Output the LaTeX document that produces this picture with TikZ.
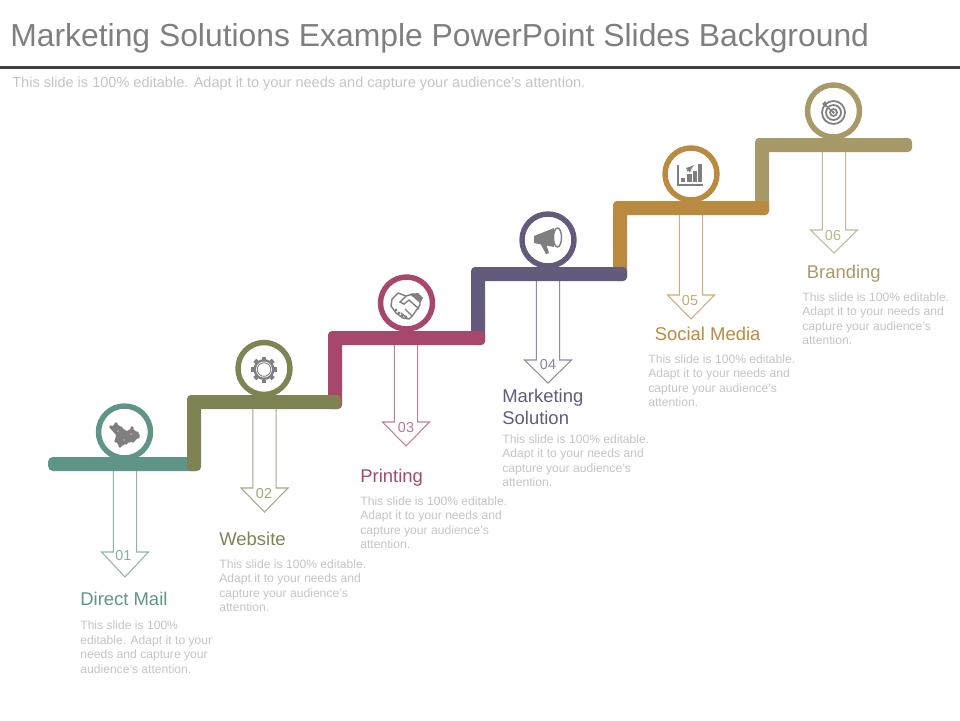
\documentclass[tikz,border=0pt]{standalone}
\usepackage{fontspec}
\setmainfont{Liberation Sans}
\usetikzlibrary{positioning}
\definecolor{StepTeal}{HTML}{5F9488}
\definecolor{StepOlive}{HTML}{7F8354}
\definecolor{StepMaroon}{HTML}{A8476E}
\definecolor{StepPurple}{HTML}{635A7C}
\definecolor{StepOchre}{HTML}{B98A3F}
\definecolor{StepKhaki}{HTML}{A89A68}
\definecolor{IconGray}{HTML}{7F7F7F}
\definecolor{BodyGray}{HTML}{C4C4C4}
\tikzset{
  ring/.style={circle, draw=#1, fill=white, line width=3.1pt, minimum size=1.04cm, inner sep=0pt},
  heading/.style={anchor=west, inner sep=0pt, align=left, text=#1,
                  font=\fontsize{10.5}{13}\selectfont},
  bodytext/.style={inner sep=0pt, align=left, text=BodyGray,
                   font=\fontsize{6.9}{8.2}\selectfont},
  numtext/.style={inner sep=0pt, text=#1!75, font=\fontsize{8.2}{10}\selectfont},
  icon/.style={draw=IconGray, line width=0.8pt},
  iconfill/.style={fill=IconGray}
}
\begin{document}
\begin{tikzpicture}[x=0.02cm, y=-0.02cm]
\useasboundingbox (0,0) rectangle (960,720);
\node[anchor=west, inner sep=0pt, text=IconGray, font=\fontsize{18.13}{22}\selectfont] (title) at (10,38)
  {Marketing Solutions Example PowerPoint Slides Background};
\coordinate (ruleL) at (0,67.5);
\coordinate (ruleR) at (960,67.5);
\draw[line width=1.7pt, color=black!75] (ruleL) -- (ruleR);
\node[anchor=west, inner sep=0pt, text=BodyGray, font=\fontsize{8.27}{10}\selectfont] (subtitle) at (12,83.5)
  {This slide is 100\% editable. Adapt it to your needs and capture your audience's attention.};
% arrows below the stairs
\foreach \col/\ax/\atop/\ash/\atip in {StepTeal/125/465/552/577, StepOlive/264.5/405/488/512,
    StepMaroon/406/340/422/446, StepPurple/548/277/360/383, StepOchre/691/210/295/319, StepKhaki/834/147/230/253}
  \draw[draw=\col!70, line width=0.6pt] (\ax-11.7,\atop) -- (\ax-11.7,\ash) -- (\ax-23.5,\ash) -- (\ax,\atip)
    -- (\ax+23.5,\ash) -- (\ax+11.7,\ash) -- (\ax+11.7,\atop);
% stairs
\foreach \col/\vx/\yb/\yt/\xr in {StepKhaki/762/215/145/912, StepOchre/620/281/208/769,
    StepPurple/478/345/274/627, StepMaroon/335/409/338/485}
  \fill[\col] (\vx-7,\yb) [rounded corners=0.08cm] -- (\vx-7,\yt-7) -- (\xr,\yt-7) -- (\xr,\yt+7)
    [sharp corners] -- (\vx+7,\yt+7) [rounded corners=0.08cm] -- (\vx+7,\yb) -- cycle;
\fill[StepTeal, rounded corners=0.1cm] (48,457) rectangle (200,471);
\fill[StepOlive] (187,471) [rounded corners=0.08cm] -- (187,395) -- (341,395) -- (341,409)
  [sharp corners] -- (201,409) [rounded corners=0.08cm] -- (201,471) -- cycle;
% rings
\node[ring=StepTeal] (ring1) at (124.5,432) {};
\node[ring=StepOlive] (ring2) at (264,368.5) {};
\node[ring=StepMaroon] (ring3) at (406.5,303) {};
\node[ring=StepPurple] (ring4) at (548,240) {};
\node[ring=StepOchre] (ring5) at (691,174) {};
\node[ring=StepKhaki] (ring6) at (833.5,111) {};
% puzzle icon
\fill[IconGray] (110,428) -- (116,423) -- (122,428) -- (127,431) -- (132,428) -- (140,435) -- (135,441)
  -- (127,443) -- (120,447) -- (115,440) -- (116,435) -- cycle;
\foreach \bx/\by in {111/427, 116/424, 121/428, 132/428, 137/433, 138/437, 133/441, 126/443, 120/446, 116/441, 122/436, 129/436}
  \fill[IconGray] (\bx,\by) circle (1.8);
\foreach \bx/\by in {118/431, 124/440, 131/434}
  \fill[white, opacity=0.3] (\bx,\by) circle (1.2);
% gear icon
\foreach \ang in {0,45,...,315}
  \fill[IconGray, shift={(264,369.5)}, rotate=\ang] (10,-2.2) rectangle (13,2.2);
\fill[IconGray] (264,369.5) circle (10.5);
\fill[white] (264,369.5) circle (8);
\draw[icon, line width=0.5pt] (264,369.5) circle (6.8);
% handshake icon
\draw[icon, fill=white, line join=round] (392,299) -- (398,293) -- (406,296) -- (413,294) -- (420,299) -- (420,305)
  -- (413,315) -- (409,319) -- (403,318) -- (396,313) -- (391,306) -- cycle;
\draw[icon] (406,296) -- (400,302) -- (404,304) -- (409,300) -- (419,309);
\draw[icon] (405,309) -- (412,316);
\draw[icon] (401,313) -- (407,318);
\fill[IconGray] (409,294) -- (418,293) -- (423,298) -- (420,303) -- (413,297) -- cycle;
\foreach \bx/\by in {396/310, 399/313, 402/316, 406/317}
  \fill[IconGray] (\bx,\by) circle (1.6);
% megaphone icon
\fill[IconGray] (534,236) -- (554,228) -- (554,247) -- (534,243) -- cycle;
\fill[IconGray] (540,243) -- (546,244) -- (549,253) -- (546,254) -- cycle;
\draw[icon, fill=white] (557.5,237.5) ellipse (4 and 9.5);
% chart icon
\draw[icon] (678,165) -- (678,185) -- (703,185);
\fill[IconGray] (681,178) rectangle (685,182);
\fill[IconGray] (687,174) rectangle (692,182);
\fill[IconGray] (693,171) rectangle (697,182);
\fill[IconGray] (698,164) rectangle (702,182);
\draw[icon, ->, >=latex, line width=0.6pt] (687,171) -- (694,165);
% target icon
\foreach \rad in {11.5,7.5,3.5}
  \draw[icon, line width=1pt] (833.5,112.5) circle (\rad);
\fill[IconGray] (833.5,112.5) circle (1.3);
\draw[icon, line width=0.8pt] (833.5,112.5) -- (824,104);
\fill[IconGray] (822,104) -- (825,101) -- (827,105) -- (825,107) -- cycle;
% numbers
\node[numtext=StepTeal] (num1) at (123.5,556) {01};
\node[numtext=StepOlive] (num2) at (264,494) {02};
\node[numtext=StepMaroon] (num3) at (406,428) {03};
\node[numtext=StepPurple] (num4) at (548,365) {04};
\node[numtext=StepOchre] (num5) at (690,301) {05};
\node[numtext=StepKhaki] (num6) at (833,236) {06};
% headings
\node[heading=StepTeal] (head1) at (80,600.5) {\strut Direct Mail};
\node[heading=StepOlive] (head2) at (219,540.5) {\strut Website};
\node[heading=StepMaroon] (head3) at (360,477.5) {\strut Printing};
\node[heading=StepPurple] (head4) at (502,409) {\strut Marketing\\\strut Solution};
\node[heading=StepOchre] (head5) at (654.5,335.5) {\strut Social Media};
\node[heading=StepKhaki] (head6) at (806.5,273.5) {\strut Branding};
% body texts
\node[bodytext, below=0.17cm of head1.south west, anchor=north west] (body1)
  {This slide is 100\%\\editable. Adapt it to your\\needs and capture your\\audience's attention.};
\node[bodytext, below=0.14cm of head2.south west, anchor=north west] (body2)
  {This slide is 100\% editable.\\Adapt it to your needs and\\capture your audience's\\attention.};
\node[bodytext, below=0.14cm of head3.south west, anchor=north west] (body3)
  {This slide is 100\% editable.\\Adapt it to your needs and\\capture your audience's\\attention.};
\node[bodytext, below=0.04cm of head4.south west, anchor=north west] (body4)
  {This slide is 100\% editable.\\Adapt it to your needs and\\capture your audience's\\attention.};
\node[bodytext, below=0.14cm of head5.south west, xshift=-0.13cm, anchor=north west] (body5)
  {This slide is 100\% editable.\\Adapt it to your needs and\\capture your audience's\\attention.};
\node[bodytext, below=0.14cm of head6.south west, xshift=-0.09cm, anchor=north west] (body6)
  {This slide is 100\% editable.\\Adapt it to your needs and\\capture your audience's\\attention.};
\end{tikzpicture}
\end{document}
